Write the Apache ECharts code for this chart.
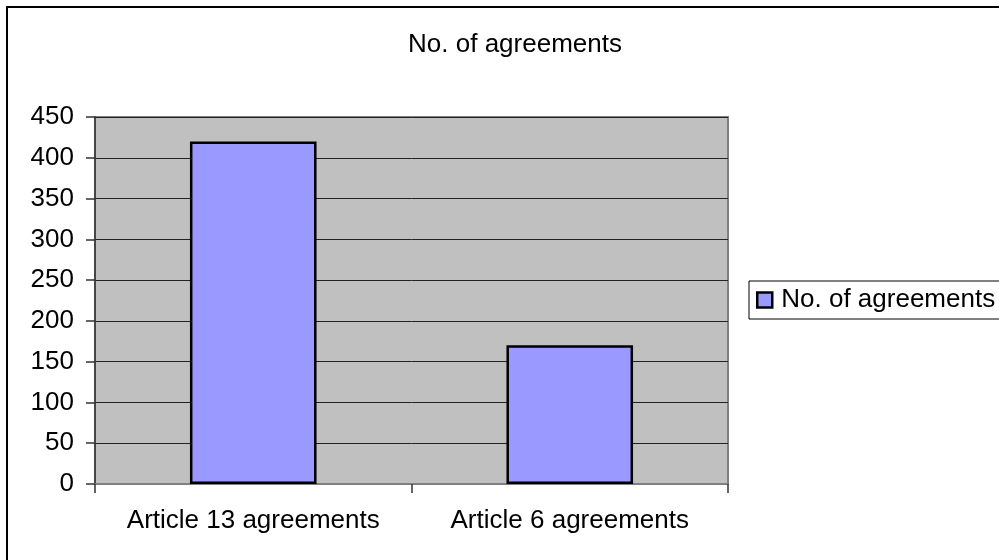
<!DOCTYPE html>
<html>
<head>
<meta charset="utf-8">
<script src="https://cdn.jsdelivr.net/npm/echarts@6/dist/echarts.min.js"></script>
<style>
  html, body { margin: 0; padding: 0; background: #fff; }
  #chart { width: 999px; height: 560px; }
</style>
</head>
<body>
<div id="chart"></div>
<script>
// data
const categories = ['Article 13 agreements', 'Article 6 agreements'];
const seriesName = 'No. of agreements';
const agreements = [420, 170];
const yMin = 0, yMax = 450, yStep = 50;

const font = 'Liberation Sans, Arial, sans-serif';
const chart = echarts.init(document.getElementById('chart'));

chart.setOption({
    animation: false,
    title: {
        text: 'No. of agreements',
        left: 510,
        top: 40,
        textAlign: 'center',
        textVerticalAlign: 'middle',
        textStyle: {color: '#000', fontSize: 26, fontWeight: 'normal', fontFamily: font}
    },
    // outer chart frame, cut by the window on the right and bottom
    graphic: [{
        type: 'rect',
        shape: {x: 7, y: 7, width: 1100, height: 700},
        style: {fill: 'none', stroke: '#000', lineWidth: 2},
        silent: true,
        z: 0
    }],
    legend: {
        data: [seriesName],
        left: 749,
        top: 281,
        itemWidth: 15,
        itemHeight: 15,
        itemGap: 0,
        padding: [6, 40, 6, 7],
        borderColor: '#000',
        borderWidth: 1,
        backgroundColor: '#fff',
        icon: 'rect',
        itemStyle: {borderColor: '#000', borderWidth: 2.5},
        textStyle: {color: '#000', fontSize: 26, fontFamily: font, padding: [0, 0, 0, 4]}
    },
    grid: {
        left: 95,
        top: 117,
        width: 633,
        height: 367,
        show: true,
        backgroundColor: '#c0c0c0',
        borderColor: '#808080',
        borderWidth: 2
    },
    xAxis: {
        type: 'category',
        data: categories,
        axisLine: {lineStyle: {color: '#808080', width: 2}},
        axisTick: {show: true, length: 9, lineStyle: {color: '#333', width: 1.5}},
        axisLabel: {color: '#000', fontSize: 26, fontFamily: font, margin: 24, interval: 0}
    },
    yAxis: {
        type: 'value',
        min: yMin,
        max: yMax,
        interval: yStep,
        axisLine: {show: true, lineStyle: {color: '#333', width: 1.5}},
        axisTick: {show: true, length: 9, lineStyle: {color: '#333', width: 1.5}},
        axisLabel: {color: '#000', fontSize: 26, fontFamily: font, margin: 21},
        splitLine: {show: true, lineStyle: {color: '#222', width: 1}}
    },
    series: [{
        name: seriesName,
        type: 'bar',
        data: agreements,
        barWidth: '40%',
        itemStyle: {color: '#9999ff', borderColor: '#000', borderWidth: 2.5}
    }]
});
</script>
</body>
</html>
